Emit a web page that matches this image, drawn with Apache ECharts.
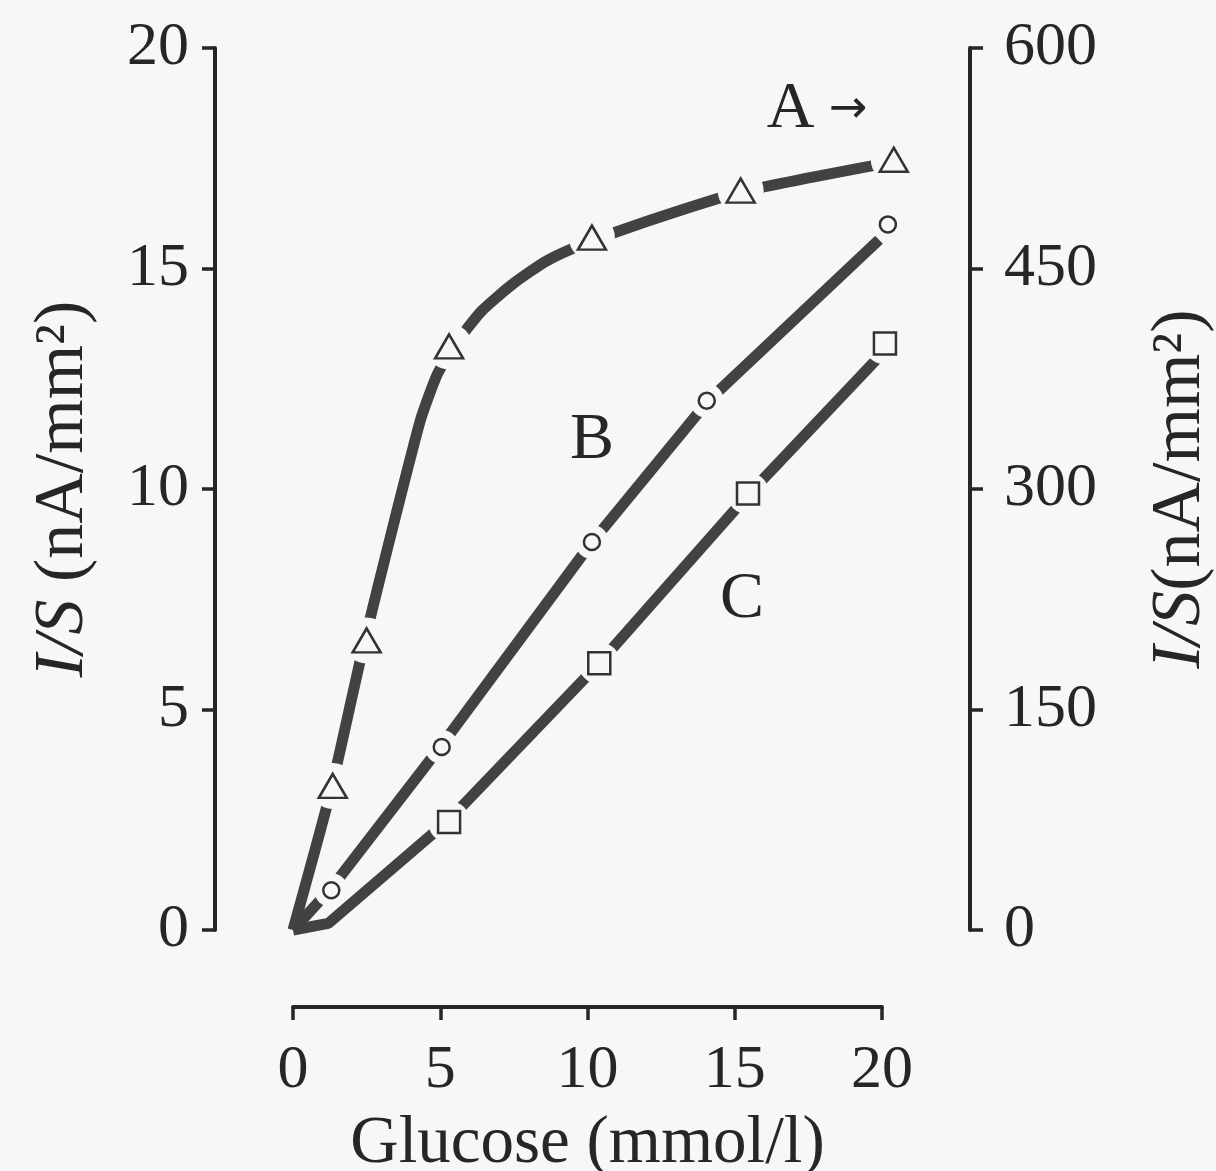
<!DOCTYPE html>
<html><head><meta charset="utf-8">
<script src="https://cdn.jsdelivr.net/npm/echarts@6/dist/echarts.min.js"></script>
<style>html,body{margin:0;padding:0;background:#f7f7f5}#c{width:1216px;height:1171px}</style>
</head><body><div id="c"></div>
<script>
// ---- data ----
const xTicks = [0, 5, 10, 15, 20];
const leftTicks = [0, 5, 10, 15, 20];
const rightTicks = [0, 150, 300, 450, 600];

// marker points (A on right axis, B and C on left axis)
const markersA = [[1.35, 98], [2.5, 197], [5.3, 397], [10.15, 471], [15.2, 503], [20.4, 524]];
const markersB = [[1.3, 0.9], [5.05, 4.15], [10.15, 8.8], [14.05, 12.0], [20.2, 16.0]];
const markersC = [[5.3, 2.45], [10.4, 6.05], [15.45, 9.9], [20.1, 13.3]];

// traced curves
const curveA = [[0, 0], [1.3, 96], [2.45, 198], [4.3, 345], [4.9, 378], [5.5, 398], [6.4, 421], [7.5, 440], [8.6, 455], [9.8, 466], [12, 482], [15.2, 502], [19.7, 520]];
const curveB = [[0, 0], [1.3, 0.95], [5.0, 4.15], [10.1, 8.75], [14.1, 12.0], [19.9, 15.65]];
const curveC = [[0, 0], [1.2, 0.15], [5.3, 2.5], [10.4, 6.05], [15.5, 9.9], [19.9, 13.0]];

// curve labels (left-axis coordinates)
const curveLabels = [
  { name: 'A', value: [17.8, 18.6] },
  { name: 'B', value: [10.15, 11.1] },
  { name: 'C', value: [15.25, 7.48] }
];

// ---- styling ----
const BG = '#f7f7f5';
const INK = '#262626';
const LINE = '#424242';
const FONT = '"Liberation Serif", "Times New Roman", serif';

function axisCommon() {
  return {
    axisLine: { show: true, onZero: false, lineStyle: { color: INK, width: 4 } },
    axisTick: { show: true, length: 13, lineStyle: { color: INK, width: 3.5 } },
    splitLine: { show: false }
  };
}
const nameStyle = {
  color: INK, fontFamily: FONT, fontSize: 70,
  rich: { it: { fontStyle: 'italic', fontFamily: FONT, fontSize: 70, color: INK } }
};

const chart = echarts.init(document.getElementById('c'), null, { renderer: 'canvas' });

const lineSeries = (data, yIdx, smooth) => ({
  type: 'line', data, yAxisIndex: yIdx, smooth, symbol: 'none', clip: false, z: 2,
  lineStyle: { color: LINE, width: 11, cap: 'butt', opacity: 1 }
});
const haloSeries = (data, yIdx, size) => ({
  type: 'scatter', data, yAxisIndex: yIdx, symbol: 'circle', symbolSize: size,
  itemStyle: { color: BG, opacity: 1 }, clip: false, z: 3, silent: true
});
const markerSeries = (data, yIdx, symbol, size) => ({
  type: 'scatter', data, yAxisIndex: yIdx, symbol, symbolSize: size, clip: false, z: 4,
  itemStyle: { color: BG, borderColor: '#333', borderWidth: 2.5, opacity: 1 }
});

chart.setOption({
  animation: false,
  backgroundColor: BG,
  grid: { left: 293, top: 48, width: 589, height: 882, containLabel: false, outerBoundsMode: 'none' },
  xAxis: Object.assign(axisCommon(), {
    type: 'value', min: xTicks[0], max: xTicks[xTicks.length - 1], interval: 5,
    position: 'bottom', offset: 77,
    axisLabel: { color: INK, fontFamily: FONT, fontSize: 62, margin: 33 },
    name: 'Glucose (mmol/l)', nameLocation: 'middle', nameGap: 104,
    nameTextStyle: { color: INK, fontFamily: FONT, fontSize: 67 }
  }),
  yAxis: [
    Object.assign(axisCommon(), {
      type: 'value', min: leftTicks[0], max: leftTicks[leftTicks.length - 1], interval: 5,
      position: 'left', offset: 78,
      axisLabel: { color: INK, fontFamily: FONT, fontSize: 62, margin: 26 },
      name: '{it|I/S} (nA/mm²)', nameLocation: 'middle', nameRotate: 90, nameGap: 116,
      nameTextStyle: nameStyle
    }),
    Object.assign(axisCommon(), {
      type: 'value', min: rightTicks[0], max: rightTicks[rightTicks.length - 1], interval: 150,
      position: 'right', offset: 88,
      axisLabel: { color: INK, fontFamily: FONT, fontSize: 62, margin: 34 },
      name: '{it|I/S}(nA/mm²)', nameLocation: 'middle', nameRotate: 90, nameGap: 176,
      nameTextStyle: nameStyle
    })
  ],
  series: [
    lineSeries(curveA, 1, 0.2),
    lineSeries(curveB, 0, false),
    lineSeries(curveC, 0, false),
    haloSeries(markersA, 1, 46),
    haloSeries(markersB, 0, 34),
    haloSeries(markersC, 0, 42),
    markerSeries(markersA, 1, 'triangle', [28, 24]),
    markerSeries(markersB, 0, 'circle', 16),
    markerSeries(markersC, 0, 'rect', 22),
    {
      type: 'scatter', data: curveLabels, yAxisIndex: 0, symbolSize: 1, z: 5,
      itemStyle: { color: 'rgba(0,0,0,0)', opacity: 1 }, silent: true,
      label: {
        show: true, position: 'inside', opacity: 1,
        formatter: p => p.name === 'A' ? '{a|A}{ar| →}' : '{a|' + p.name + '}',
        rich: {
          a: { fontFamily: FONT, fontSize: 66, color: INK },
          ar: { fontFamily: '"DejaVu Sans", sans-serif', fontSize: 46, color: INK }
        }
      }
    }
  ]
});
</script></body></html>
